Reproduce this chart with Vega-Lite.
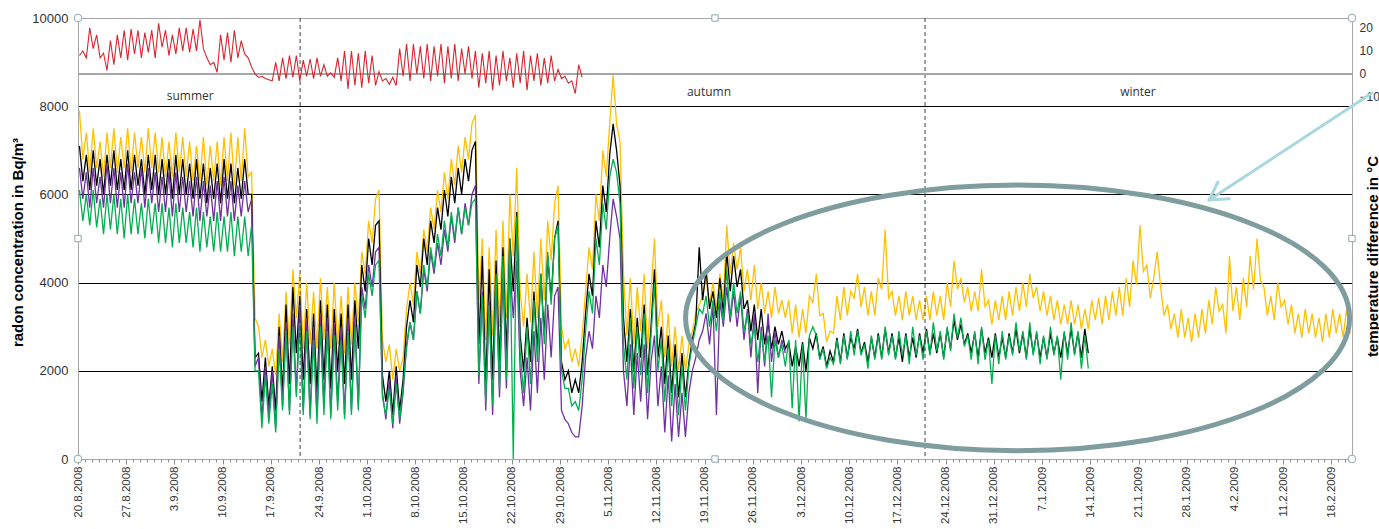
{
"$schema":"https://vega.github.io/schema/vega-lite/v6.json",
"width":1274,"height":441,"autosize":"none",
"padding":{"left":78,"top":18,"right":27,"bottom":70},
"background":"white",
"config":{"view":{"stroke":null},"font":"Liberation Sans"},
"datasets":{"d":[
{"t":"2008-08-20T05:00","Y":7900,"K":7100,"P":6600,"G":6100,"T":8},
{"t":"2008-08-20T17:00","Y":6800,"K":6300,"P":5900,"G":5400,"T":10},
{"t":"2008-08-21T05:00","Y":7400,"K":6900,"P":6500,"G":6000,"T":7},
{"t":"2008-08-21T17:00","Y":6500,"K":6100,"P":5700,"G":5300,"T":20},
{"t":"2008-08-22T05:00","Y":7500,"K":7000,"P":6600,"G":6100,"T":11},
{"t":"2008-08-22T17:00","Y":6600,"K":6200,"P":5800,"G":5250,"T":17},
{"t":"2008-08-23T05:00","Y":7200,"K":6800,"P":6400,"G":5900,"T":7},
{"t":"2008-08-23T17:00","Y":6400,"K":6000,"P":5700,"G":5100,"T":9},
{"t":"2008-08-24T05:00","Y":7400,"K":6900,"P":6700,"G":6000,"T":1.5},
{"t":"2008-08-24T17:00","Y":6600,"K":6200,"P":5800,"G":5200,"T":14.5},
{"t":"2008-08-25T05:00","Y":7500,"K":7000,"P":6600,"G":6000,"T":4},
{"t":"2008-08-25T17:00","Y":6500,"K":6100,"P":5700,"G":5100,"T":17},
{"t":"2008-08-26T05:00","Y":7300,"K":6800,"P":6500,"G":5900,"T":7},
{"t":"2008-08-26T17:00","Y":6600,"K":6100,"P":5700,"G":5000,"T":19},
{"t":"2008-08-27T05:00","Y":7500,"K":7000,"P":6700,"G":6000,"T":6},
{"t":"2008-08-27T17:00","Y":6500,"K":6100,"P":5800,"G":5100,"T":19.5},
{"t":"2008-08-28T05:00","Y":7400,"K":6900,"P":6500,"G":5900,"T":8.7},
{"t":"2008-08-28T17:00","Y":6600,"K":6200,"P":5800,"G":5100,"T":19},
{"t":"2008-08-29T05:00","Y":7300,"K":6800,"P":6600,"G":5800,"T":7},
{"t":"2008-08-29T17:00","Y":6500,"K":6000,"P":5700,"G":5000,"T":18},
{"t":"2008-08-30T05:00","Y":7500,"K":6900,"P":6600,"G":5900,"T":9.4},
{"t":"2008-08-30T17:00","Y":6600,"K":6100,"P":5800,"G":5100,"T":19},
{"t":"2008-08-31T05:00","Y":7400,"K":6900,"P":6500,"G":5800,"T":7},
{"t":"2008-08-31T17:00","Y":6500,"K":6000,"P":5600,"G":4900,"T":22},
{"t":"2008-09-01T05:00","Y":7300,"K":6800,"P":6400,"G":5800,"T":11.6},
{"t":"2008-09-01T17:00","Y":6400,"K":6000,"P":5600,"G":4900,"T":19},
{"t":"2008-09-02T05:00","Y":7200,"K":6800,"P":6500,"G":5700,"T":8},
{"t":"2008-09-02T17:00","Y":6400,"K":5900,"P":5500,"G":4800,"T":17},
{"t":"2008-09-03T05:00","Y":7400,"K":6900,"P":6500,"G":5800,"T":8.7},
{"t":"2008-09-03T17:00","Y":6500,"K":6000,"P":5600,"G":4900,"T":20},
{"t":"2008-09-04T05:00","Y":7300,"K":6800,"P":6400,"G":5700,"T":10},
{"t":"2008-09-04T17:00","Y":6400,"K":6000,"P":5600,"G":4900,"T":20},
{"t":"2008-09-05T05:00","Y":7200,"K":6700,"P":6300,"G":5600,"T":9.4},
{"t":"2008-09-05T17:00","Y":6300,"K":5900,"P":5500,"G":4800,"T":19.5},
{"t":"2008-09-06T05:00","Y":7100,"K":6800,"P":6400,"G":5700,"T":10},
{"t":"2008-09-06T17:00","Y":6300,"K":5900,"P":5400,"G":4700,"T":23.5},
{"t":"2008-09-07T05:00","Y":7300,"K":6700,"P":6300,"G":5600,"T":11},
{"t":"2008-09-07T17:00","Y":6200,"K":5800,"P":5500,"G":4800,"T":7},
{"t":"2008-09-08T05:00","Y":7100,"K":6600,"P":6200,"G":5500,"T":4},
{"t":"2008-09-08T17:00","Y":6300,"K":5900,"P":5400,"G":4700,"T":5},
{"t":"2008-09-09T05:00","Y":7200,"K":6700,"P":6300,"G":5600,"T":0.7},
{"t":"2008-09-09T17:00","Y":6200,"K":5800,"P":5400,"G":4700,"T":17},
{"t":"2008-09-10T05:00","Y":7300,"K":6800,"P":6400,"G":5500,"T":6},
{"t":"2008-09-10T17:00","Y":6300,"K":5900,"P":5500,"G":4700,"T":18},
{"t":"2008-09-11T05:00","Y":7400,"K":6700,"P":6300,"G":5600,"T":5},
{"t":"2008-09-11T17:00","Y":6200,"K":5800,"P":5400,"G":4600,"T":19},
{"t":"2008-09-12T05:00","Y":7300,"K":6600,"P":6200,"G":5500,"T":7},
{"t":"2008-09-12T17:00","Y":6300,"K":5900,"P":5500,"G":4700,"T":14.5},
{"t":"2008-09-13T05:00","Y":7500,"K":6800,"P":6300,"G":5500,"T":8.7},
{"t":"2008-09-13T17:00","Y":6400,"K":6000,"P":5600,"G":4600,"T":7},
{"t":"2008-09-14T05:00","Y":6500,"K":6000,"P":5900,"G":5300,"T":3},
{"t":"2008-09-14T17:00","Y":3200,"K":2300,"P":2100,"G":2000,"T":0},
{"t":"2008-09-15T05:00","Y":3000,"K":2400,"P":2300,"G":2000,"T":-1.5},
{"t":"2008-09-15T17:00","Y":2300,"K":1300,"P":900,"G":700,"T":-1},
{"t":"2008-09-16T05:00","Y":2700,"K":2300,"P":2100,"G":1900,"T":-2},
{"t":"2008-09-16T17:00","Y":2100,"K":1200,"P":1000,"G":800,"T":-2.5},
{"t":"2008-09-17T05:00","Y":2500,"K":2100,"P":2000,"G":1700,"T":-3},
{"t":"2008-09-17T17:00","Y":1900,"K":1100,"P":700,"G":600,"T":5},
{"t":"2008-09-18T05:00","Y":3300,"K":3000,"P":2800,"G":2500,"T":-3},
{"t":"2008-09-18T17:00","Y":2200,"K":1500,"P":1200,"G":1100,"T":7},
{"t":"2008-09-19T05:00","Y":3800,"K":3500,"P":3100,"G":2900,"T":-2},
{"t":"2008-09-19T17:00","Y":2600,"K":1700,"P":1100,"G":1000,"T":8},
{"t":"2008-09-20T05:00","Y":4300,"K":3900,"P":3300,"G":3000,"T":-1.5},
{"t":"2008-09-20T17:00","Y":3200,"K":2400,"P":1500,"G":1400,"T":8},
{"t":"2008-09-21T05:00","Y":4200,"K":3700,"P":3500,"G":3100,"T":-3},
{"t":"2008-09-21T17:00","Y":2500,"K":1800,"P":1100,"G":1000,"T":6},
{"t":"2008-09-22T05:00","Y":4000,"K":3400,"P":3200,"G":2900,"T":-1},
{"t":"2008-09-22T17:00","Y":2600,"K":1700,"P":1000,"G":900,"T":6.5},
{"t":"2008-09-23T05:00","Y":3800,"K":3300,"P":3000,"G":2700,"T":-2},
{"t":"2008-09-23T17:00","Y":2500,"K":1500,"P":1000,"G":800,"T":7},
{"t":"2008-09-24T05:00","Y":4100,"K":3600,"P":3300,"G":3000,"T":-1},
{"t":"2008-09-24T17:00","Y":2700,"K":1800,"P":1200,"G":1000,"T":4},
{"t":"2008-09-25T05:00","Y":3900,"K":3500,"P":3200,"G":2900,"T":-1},
{"t":"2008-09-25T17:00","Y":2500,"K":1600,"P":1000,"G":900,"T":0.5},
{"t":"2008-09-26T05:00","Y":4000,"K":3400,"P":3100,"G":2800,"T":-1.5},
{"t":"2008-09-26T17:00","Y":2600,"K":2000,"P":1300,"G":1100,"T":7},
{"t":"2008-09-27T05:00","Y":3700,"K":3300,"P":3000,"G":2700,"T":-3},
{"t":"2008-09-27T17:00","Y":2400,"K":1700,"P":1000,"G":900,"T":10},
{"t":"2008-09-28T05:00","Y":3900,"K":3500,"P":3200,"G":2900,"T":-6.5},
{"t":"2008-09-28T17:00","Y":2600,"K":1800,"P":1100,"G":1000,"T":10},
{"t":"2008-09-29T05:00","Y":4000,"K":3600,"P":3200,"G":3000,"T":-5},
{"t":"2008-09-29T17:00","Y":3100,"K":2500,"P":1200,"G":1100,"T":9},
{"t":"2008-09-30T05:00","Y":4700,"K":4400,"P":3900,"G":3700,"T":-6},
{"t":"2008-09-30T17:00","Y":4200,"K":3800,"P":3400,"G":3200,"T":10},
{"t":"2008-10-01T05:00","Y":5400,"K":5000,"P":4400,"G":4200,"T":-4},
{"t":"2008-10-01T17:00","Y":4900,"K":4400,"P":3900,"G":3700,"T":8},
{"t":"2008-10-02T05:00","Y":5900,"K":5300,"P":4700,"G":4400,"T":-5},
{"t":"2008-10-02T17:00","Y":6100,"K":5400,"P":4800,"G":4500,"T":1},
{"t":"2008-10-03T05:00","Y":2700,"K":1900,"P":1500,"G":1400,"T":-3},
{"t":"2008-10-03T17:00","Y":2200,"K":1300,"P":900,"G":1000,"T":-2},
{"t":"2008-10-04T05:00","Y":2600,"K":2000,"P":1800,"G":1600,"T":-4.5},
{"t":"2008-10-04T17:00","Y":1800,"K":1000,"P":700,"G":800,"T":-1.5},
{"t":"2008-10-05T05:00","Y":2500,"K":2100,"P":1900,"G":1700,"T":-5},
{"t":"2008-10-05T17:00","Y":2000,"K":1100,"P":800,"G":900,"T":11},
{"t":"2008-10-06T05:00","Y":2300,"K":1800,"P":1500,"G":1600,"T":-1},
{"t":"2008-10-06T17:00","Y":3400,"K":3000,"P":2600,"G":2500,"T":13},
{"t":"2008-10-07T05:00","Y":4000,"K":3600,"P":3100,"G":3100,"T":-3},
{"t":"2008-10-07T17:00","Y":3500,"K":3100,"P":2700,"G":2700,"T":13},
{"t":"2008-10-08T05:00","Y":4700,"K":4400,"P":3800,"G":3800,"T":0},
{"t":"2008-10-08T17:00","Y":4200,"K":3900,"P":3300,"G":3300,"T":12},
{"t":"2008-10-09T05:00","Y":5200,"K":5000,"P":4300,"G":4400,"T":-2},
{"t":"2008-10-09T17:00","Y":4700,"K":4400,"P":3800,"G":3900,"T":13},
{"t":"2008-10-10T05:00","Y":5700,"K":5400,"P":4700,"G":4800,"T":-3},
{"t":"2008-10-10T17:00","Y":5200,"K":4900,"P":4200,"G":4300,"T":12},
{"t":"2008-10-11T05:00","Y":6100,"K":5700,"P":4900,"G":5100,"T":-1},
{"t":"2008-10-11T17:00","Y":5600,"K":5200,"P":4400,"G":4600,"T":13},
{"t":"2008-10-12T05:00","Y":6500,"K":6100,"P":5200,"G":5400,"T":-4},
{"t":"2008-10-12T17:00","Y":5900,"K":5500,"P":4700,"G":4800,"T":12},
{"t":"2008-10-13T05:00","Y":6800,"K":6400,"P":5500,"G":5600,"T":-2},
{"t":"2008-10-13T17:00","Y":6200,"K":5800,"P":4900,"G":5000,"T":13},
{"t":"2008-10-14T05:00","Y":7100,"K":6600,"P":5700,"G":5700,"T":-3},
{"t":"2008-10-14T17:00","Y":6500,"K":6000,"P":5100,"G":5100,"T":11},
{"t":"2008-10-15T05:00","Y":7300,"K":6800,"P":5800,"G":5700,"T":0},
{"t":"2008-10-15T17:00","Y":6800,"K":6300,"P":5300,"G":5300,"T":12},
{"t":"2008-10-16T05:00","Y":7600,"K":7000,"P":6000,"G":5800,"T":-2},
{"t":"2008-10-16T17:00","Y":7800,"K":7200,"P":6200,"G":5900,"T":10},
{"t":"2008-10-17T05:00","Y":3600,"K":2600,"P":1700,"G":1900,"T":-6},
{"t":"2008-10-17T17:00","Y":5000,"K":4600,"P":3800,"G":3700,"T":9},
{"t":"2008-10-18T05:00","Y":2700,"K":1600,"P":1100,"G":1300,"T":-4},
{"t":"2008-10-18T17:00","Y":4800,"K":4300,"P":3600,"G":3500,"T":10},
{"t":"2008-10-19T05:00","Y":2800,"K":1800,"P":1000,"G":1200,"T":-7},
{"t":"2008-10-19T17:00","Y":5200,"K":4500,"P":4000,"G":4200,"T":8},
{"t":"2008-10-20T05:00","Y":3000,"K":2200,"P":1400,"G":1600,"T":-5},
{"t":"2008-10-20T17:00","Y":5400,"K":4800,"P":4200,"G":4600,"T":10},
{"t":"2008-10-21T05:00","Y":3200,"K":2400,"P":1600,"G":1800,"T":-3},
{"t":"2008-10-21T17:00","Y":6000,"K":5000,"P":4400,"G":5000,"T":7},
{"t":"2008-10-22T05:00","Y":4600,"K":3800,"P":3200,"G":0,"T":-6},
{"t":"2008-10-22T17:00","Y":6600,"K":5600,"P":4500,"G":5500,"T":9},
{"t":"2008-10-23T05:00","Y":3800,"K":2800,"P":2000,"G":2400,"T":-4},
{"t":"2008-10-23T17:00","Y":3000,"K":2000,"P":1200,"G":1500,"T":10},
{"t":"2008-10-24T05:00","Y":4200,"K":3200,"P":2300,"G":3000,"T":-7},
{"t":"2008-10-24T17:00","Y":3100,"K":2200,"P":1100,"G":1700,"T":8},
{"t":"2008-10-25T05:00","Y":4700,"K":3800,"P":2900,"G":3600,"T":-3},
{"t":"2008-10-25T17:00","Y":3200,"K":2500,"P":1500,"G":2200,"T":9},
{"t":"2008-10-26T05:00","Y":5000,"K":4200,"P":3200,"G":4200,"T":-5},
{"t":"2008-10-26T17:00","Y":3600,"K":2800,"P":1800,"G":2600,"T":7},
{"t":"2008-10-27T05:00","Y":5400,"K":4600,"P":3500,"G":4700,"T":-4},
{"t":"2008-10-27T17:00","Y":4500,"K":3600,"P":2300,"G":3500,"T":8},
{"t":"2008-10-28T05:00","Y":5800,"K":5000,"P":3700,"G":5000,"T":-3},
{"t":"2008-10-28T17:00","Y":6200,"K":5400,"P":3900,"G":5300,"T":2},
{"t":"2008-10-29T05:00","Y":3000,"K":2200,"P":1100,"G":2000,"T":-2},
{"t":"2008-10-29T17:00","Y":2500,"K":1800,"P":900,"G":1600,"T":-1},
{"t":"2008-10-30T05:00","Y":2700,"K":2000,"P":800,"G":1600,"T":-4},
{"t":"2008-10-30T17:00","Y":2200,"K":1500,"P":600,"G":1200,"T":-3},
{"t":"2008-10-31T05:00","Y":2500,"K":1800,"P":500,"G":1300,"T":-8.5},
{"t":"2008-10-31T17:00","Y":2100,"K":1500,"P":500,"G":1100,"T":4},
{"t":"2008-11-01T05:00","Y":2800,"K":2200,"P":1200,"G":1800,"T":-1.5},
{"t":"2008-11-01T17:00","Y":3800,"K":3300,"P":2300,"G":2900},
{"t":"2008-11-02T05:00","Y":4800,"K":4200,"P":2900,"G":3800},
{"t":"2008-11-02T17:00","Y":4300,"K":3700,"P":2500,"G":3300},
{"t":"2008-11-03T05:00","Y":6000,"K":5400,"P":3700,"G":5000},
{"t":"2008-11-03T17:00","Y":5400,"K":4800,"P":3200,"G":4400},
{"t":"2008-11-04T05:00","Y":7000,"K":6200,"P":4400,"G":5800},
{"t":"2008-11-04T17:00","Y":6400,"K":5600,"P":3900,"G":5200},
{"t":"2008-11-05T05:00","Y":7600,"K":6900,"P":5000,"G":6400},
{"t":"2008-11-05T17:00","Y":8700,"K":7600,"P":5900,"G":6800},
{"t":"2008-11-06T05:00","Y":7600,"K":7000,"P":5500,"G":6500},
{"t":"2008-11-06T17:00","Y":7200,"K":6200,"P":5000,"G":5800},
{"t":"2008-11-07T05:00","Y":4200,"K":3200,"P":2000,"G":2600},
{"t":"2008-11-07T17:00","Y":2800,"K":2200,"P":1200,"G":1800},
{"t":"2008-11-08T05:00","Y":4100,"K":3400,"P":2600,"G":3200},
{"t":"2008-11-08T17:00","Y":2600,"K":2000,"P":1000,"G":1600},
{"t":"2008-11-09T05:00","Y":3900,"K":3200,"P":2400,"G":3000},
{"t":"2008-11-09T17:00","Y":2900,"K":2300,"P":1300,"G":1900},
{"t":"2008-11-10T05:00","Y":4200,"K":3500,"P":2600,"G":3300},
{"t":"2008-11-10T17:00","Y":2500,"K":1900,"P":900,"G":1500},
{"t":"2008-11-11T05:00","Y":3800,"K":3000,"P":2200,"G":2800},
{"t":"2008-11-11T17:00","Y":5000,"K":4300,"P":2800,"G":4000},
{"t":"2008-11-12T05:00","Y":3000,"K":2300,"P":1200,"G":2000},
{"t":"2008-11-12T17:00","Y":3600,"K":3000,"P":2100,"G":2700},
{"t":"2008-11-13T05:00","Y":2300,"K":1700,"P":600,"G":1300},
{"t":"2008-11-13T17:00","Y":3300,"K":2800,"P":1900,"G":2500},
{"t":"2008-11-14T05:00","Y":2100,"K":1500,"P":400,"G":1200},
{"t":"2008-11-14T17:00","Y":3000,"K":2600,"P":1700,"G":2300},
{"t":"2008-11-15T05:00","Y":2000,"K":1400,"P":500,"G":1000},
{"t":"2008-11-15T17:00","Y":2800,"K":2400,"P":1500,"G":2100},
{"t":"2008-11-16T05:00","Y":2000,"K":1400,"P":500,"G":1100},
{"t":"2008-11-16T17:00","Y":2600,"K":2200,"P":1500,"G":2100},
{"t":"2008-11-17T05:00","Y":2900,"K":2700,"P":2000,"G":2600},
{"t":"2008-11-17T17:00","Y":3300,"K":3100,"P":2300,"G":3000},
{"t":"2008-11-18T05:00","Y":3500,"K":4800,"P":2700,"G":3400},
{"t":"2008-11-18T17:00","Y":3700,"K":3600,"P":2900,"G":3300},
{"t":"2008-11-19T05:00","Y":4100,"K":4300,"P":3300,"G":3700},
{"t":"2008-11-19T17:00","Y":3500,"K":3400,"P":2600,"G":3000},
{"t":"2008-11-20T05:00","Y":4000,"K":3800,"P":3500,"G":3600},
{"t":"2008-11-20T17:00","Y":3400,"K":3200,"P":1000,"G":2900},
{"t":"2008-11-21T05:00","Y":4200,"K":4100,"P":3600,"G":3800},
{"t":"2008-11-21T17:00","Y":3600,"K":3300,"P":3000,"G":3100},
{"t":"2008-11-22T05:00","Y":5300,"K":4700,"P":3900,"G":4300},
{"t":"2008-11-22T17:00","Y":4200,"K":3800,"P":3100,"G":3200},
{"t":"2008-11-23T05:00","Y":4900,"K":4600,"P":3800,"G":4000},
{"t":"2008-11-23T17:00","Y":4300,"K":3900,"P":3000,"G":3300},
{"t":"2008-11-24T05:00","Y":4800,"K":4300,"P":3700,"G":3800},
{"t":"2008-11-24T17:00","Y":3800,"K":3400,"P":2700,"G":2900},
{"t":"2008-11-25T05:00","Y":4300,"K":3600,"P":3400,"G":3300},
{"t":"2008-11-25T17:00","Y":3600,"K":2900,"P":2300,"G":2600},
{"t":"2008-11-26T05:00","Y":4400,"K":3500,"P":3300,"G":3000},
{"t":"2008-11-26T17:00","Y":3400,"K":2700,"P":1500,"G":2200},
{"t":"2008-11-27T05:00","Y":4000,"K":3400,"P":3000,"G":2900},
{"t":"2008-11-27T17:00","Y":3300,"K":2600,"P":2100,"G":2200},
{"t":"2008-11-28T05:00","Y":3800,"K":3100,"P":3300,"G":2800},
{"t":"2008-11-28T17:00","Y":3200,"K":2500,"P":2200,"G":1400},
{"t":"2008-11-29T05:00","Y":3900,"K":3000,"P":2900,"G":2700},
{"t":"2008-11-29T17:00","Y":3300,"K":2600,"P":2300,"G":2300},
{"t":"2008-11-30T05:00","Y":3600,"K":2900,"P":2700,"G":2600},
{"t":"2008-11-30T17:00","Y":3200,"K":2500,"P":2400,"G":2100},
{"t":"2008-12-01T05:00","Y":3600,"K":2650,"G":2700},
{"t":"2008-12-01T17:00","Y":2850,"K":2100,"G":1150},
{"t":"2008-12-02T05:00","Y":3500,"K":2550,"G":2700},
{"t":"2008-12-02T17:00","Y":2750,"K":2100,"G":850},
{"t":"2008-12-03T05:00","Y":3400,"K":2650,"G":2600},
{"t":"2008-12-03T17:00","Y":2850,"K":2000,"G":900},
{"t":"2008-12-04T05:00","Y":3700,"K":2750,"G":2800},
{"t":"2008-12-04T17:00","Y":3550,"K":2500,"G":3000},
{"t":"2008-12-05T05:00","Y":4200,"K":2850,"G":2800},
{"t":"2008-12-05T17:00","Y":3250,"K":2300,"G":2250},
{"t":"2008-12-06T05:00","Y":3300,"K":2550,"G":2500},
{"t":"2008-12-06T17:00","Y":2650,"K":2100,"G":2050},
{"t":"2008-12-07T05:00","Y":2900,"K":2450,"G":2300},
{"t":"2008-12-07T17:00","Y":2850,"K":2200,"G":2150},
{"t":"2008-12-08T05:00","Y":3700,"K":2750,"G":2700},
{"t":"2008-12-08T17:00","Y":3150,"K":2200,"G":2150},
{"t":"2008-12-09T05:00","Y":3900,"K":2850,"G":2800},
{"t":"2008-12-09T17:00","Y":3250,"K":2300,"G":2250},
{"t":"2008-12-10T05:00","Y":3800,"K":2750,"G":2900},
{"t":"2008-12-10T17:00","Y":3650,"K":2500,"G":2350},
{"t":"2008-12-11T05:00","Y":4200,"K":2950,"G":2900},
{"t":"2008-12-11T17:00","Y":3450,"K":2400,"G":2350},
{"t":"2008-12-12T05:00","Y":3900,"K":2650,"G":2600},
{"t":"2008-12-12T17:00","Y":3250,"K":2200,"G":2050},
{"t":"2008-12-13T05:00","Y":3800,"K":2750,"G":2800},
{"t":"2008-12-13T17:00","Y":3250,"K":2300,"G":2250},
{"t":"2008-12-14T05:00","Y":4100,"K":2850,"G":2800},
{"t":"2008-12-14T17:00","Y":3850,"K":2300,"G":2250},
{"t":"2008-12-15T05:00","Y":5200,"K":2950,"G":3000},
{"t":"2008-12-15T17:00","Y":3650,"K":2400,"G":2350},
{"t":"2008-12-16T05:00","Y":3800,"K":2850,"G":2800},
{"t":"2008-12-16T17:00","Y":3250,"K":2300,"G":2250},
{"t":"2008-12-17T05:00","Y":3700,"K":2750,"G":2900},
{"t":"2008-12-17T17:00","Y":3150,"K":2200,"G":2350},
{"t":"2008-12-18T05:00","Y":3800,"K":2850,"G":2800},
{"t":"2008-12-18T17:00","Y":3250,"K":2300,"G":2150},
{"t":"2008-12-19T05:00","Y":3700,"K":2750,"G":3000},
{"t":"2008-12-19T17:00","Y":3150,"K":2300,"G":2350},
{"t":"2008-12-20T05:00","Y":3600,"K":2850,"G":2800},
{"t":"2008-12-20T17:00","Y":3150,"K":2400,"G":2250},
{"t":"2008-12-21T05:00","Y":3700,"K":2950,"G":2900},
{"t":"2008-12-21T17:00","Y":3150,"K":2400,"G":2350},
{"t":"2008-12-22T05:00","Y":3800,"K":2850,"G":3100},
{"t":"2008-12-22T17:00","Y":3250,"K":2400,"G":2450},
{"t":"2008-12-23T05:00","Y":3700,"K":2850,"G":2900},
{"t":"2008-12-23T17:00","Y":3150,"K":2300,"G":2250},
{"t":"2008-12-24T05:00","Y":4000,"K":2950,"G":3000},
{"t":"2008-12-24T17:00","Y":3450,"K":2500,"G":2450},
{"t":"2008-12-25T05:00","Y":4500,"K":3150,"G":3300},
{"t":"2008-12-25T17:00","Y":3850,"K":2700,"G":2750},
{"t":"2008-12-26T05:00","Y":4100,"K":3050,"G":3200},
{"t":"2008-12-26T17:00","Y":3550,"K":2600,"G":2550},
{"t":"2008-12-27T05:00","Y":3900,"K":2850,"G":2800},
{"t":"2008-12-27T17:00","Y":3350,"K":2400,"G":2250},
{"t":"2008-12-28T05:00","Y":3800,"K":2850,"G":2900},
{"t":"2008-12-28T17:00","Y":3350,"K":2300,"G":2150},
{"t":"2008-12-29T05:00","Y":4300,"K":2950,"G":3000},
{"t":"2008-12-29T17:00","Y":3450,"K":2400,"G":2250},
{"t":"2008-12-30T05:00","Y":3600,"K":2750,"G":2700},
{"t":"2008-12-30T17:00","Y":3050,"K":2300,"G":1700},
{"t":"2008-12-31T05:00","Y":3600,"K":2850,"G":2800},
{"t":"2008-12-31T17:00","Y":3150,"K":2300,"G":2150},
{"t":"2009-01-01T05:00","Y":3700,"K":2750,"G":2900},
{"t":"2009-01-01T17:00","Y":3150,"K":2300,"G":2250},
{"t":"2009-01-02T05:00","Y":3800,"K":2850,"G":2800},
{"t":"2009-01-02T17:00","Y":3250,"K":2400,"G":2350},
{"t":"2009-01-03T05:00","Y":3900,"K":2950,"G":3100},
{"t":"2009-01-03T17:00","Y":3350,"K":2400,"G":2450},
{"t":"2009-01-04T05:00","Y":4000,"K":2850,"G":2900},
{"t":"2009-01-04T17:00","Y":3450,"K":2300,"G":2250},
{"t":"2009-01-05T05:00","Y":4200,"K":2950,"G":3100},
{"t":"2009-01-05T17:00","Y":3650,"K":2400,"G":2350},
{"t":"2009-01-06T05:00","Y":3900,"K":2850,"G":2900},
{"t":"2009-01-06T17:00","Y":3350,"K":2300,"G":2150},
{"t":"2009-01-07T05:00","Y":3800,"K":2750,"G":2800},
{"t":"2009-01-07T17:00","Y":3250,"K":2300,"G":2250},
{"t":"2009-01-08T05:00","Y":3700,"K":2850,"G":3000},
{"t":"2009-01-08T17:00","Y":3150,"K":2400,"G":2350},
{"t":"2009-01-09T05:00","Y":3600,"K":2750,"G":2800},
{"t":"2009-01-09T17:00","Y":3050,"K":2300,"G":1800},
{"t":"2009-01-10T05:00","Y":3500,"K":2850,"G":2900},
{"t":"2009-01-10T17:00","Y":3050,"K":2400,"G":2250},
{"t":"2009-01-11T05:00","Y":3600,"K":2950,"G":3100},
{"t":"2009-01-11T17:00","Y":3050,"K":2400,"G":2350},
{"t":"2009-01-12T05:00","Y":3500,"K":2850,"G":2900},
{"t":"2009-01-12T17:00","Y":2950,"K":2300,"G":2050},
{"t":"2009-01-13T05:00","Y":3400,"K":2950,"G":2800},
{"t":"2009-01-13T17:00","Y":2950,"K":2400,"G":2050},
{"t":"2009-01-14T05:00","Y":3600},
{"t":"2009-01-14T17:00","Y":3150},
{"t":"2009-01-15T05:00","Y":3650},
{"t":"2009-01-15T17:00","Y":3050},
{"t":"2009-01-16T05:00","Y":3700},
{"t":"2009-01-16T17:00","Y":3150},
{"t":"2009-01-17T05:00","Y":3800},
{"t":"2009-01-17T17:00","Y":3250},
{"t":"2009-01-18T05:00","Y":3900},
{"t":"2009-01-18T17:00","Y":3250},
{"t":"2009-01-19T05:00","Y":4100},
{"t":"2009-01-19T17:00","Y":3450},
{"t":"2009-01-20T05:00","Y":4500},
{"t":"2009-01-20T17:00","Y":3950},
{"t":"2009-01-21T05:00","Y":5300},
{"t":"2009-01-21T17:00","Y":4250},
{"t":"2009-01-22T05:00","Y":4400},
{"t":"2009-01-22T17:00","Y":3650},
{"t":"2009-01-23T05:00","Y":4100},
{"t":"2009-01-23T17:00","Y":4700},
{"t":"2009-01-24T05:00","Y":3900},
{"t":"2009-01-24T17:00","Y":3250},
{"t":"2009-01-25T05:00","Y":3500},
{"t":"2009-01-25T17:00","Y":2950},
{"t":"2009-01-26T05:00","Y":3300},
{"t":"2009-01-26T17:00","Y":2750},
{"t":"2009-01-27T05:00","Y":3400},
{"t":"2009-01-27T17:00","Y":2750},
{"t":"2009-01-28T05:00","Y":3200},
{"t":"2009-01-28T17:00","Y":2650},
{"t":"2009-01-29T05:00","Y":3300},
{"t":"2009-01-29T17:00","Y":2750},
{"t":"2009-01-30T05:00","Y":3400},
{"t":"2009-01-30T17:00","Y":2850},
{"t":"2009-01-31T05:00","Y":3600},
{"t":"2009-01-31T17:00","Y":3050},
{"t":"2009-02-01T05:00","Y":3900},
{"t":"2009-02-01T17:00","Y":3350},
{"t":"2009-02-02T05:00","Y":3500},
{"t":"2009-02-02T17:00","Y":2850},
{"t":"2009-02-03T05:00","Y":4600},
{"t":"2009-02-03T17:00","Y":3350},
{"t":"2009-02-04T05:00","Y":3900},
{"t":"2009-02-04T17:00","Y":3150},
{"t":"2009-02-05T05:00","Y":4100},
{"t":"2009-02-05T17:00","Y":3450},
{"t":"2009-02-06T05:00","Y":4600},
{"t":"2009-02-06T17:00","Y":3850},
{"t":"2009-02-07T05:00","Y":5000},
{"t":"2009-02-07T17:00","Y":4050},
{"t":"2009-02-08T05:00","Y":3900},
{"t":"2009-02-08T17:00","Y":3250},
{"t":"2009-02-09T05:00","Y":3700},
{"t":"2009-02-09T17:00","Y":3150},
{"t":"2009-02-10T05:00","Y":4000},
{"t":"2009-02-10T17:00","Y":3450},
{"t":"2009-02-11T05:00","Y":3600},
{"t":"2009-02-11T17:00","Y":3050},
{"t":"2009-02-12T05:00","Y":3500},
{"t":"2009-02-12T17:00","Y":2850},
{"t":"2009-02-13T05:00","Y":3300},
{"t":"2009-02-13T17:00","Y":2750},
{"t":"2009-02-14T05:00","Y":3400},
{"t":"2009-02-14T17:00","Y":2850},
{"t":"2009-02-15T05:00","Y":3300},
{"t":"2009-02-15T17:00","Y":2750},
{"t":"2009-02-16T05:00","Y":3200},
{"t":"2009-02-16T17:00","Y":2650},
{"t":"2009-02-17T05:00","Y":3300},
{"t":"2009-02-17T17:00","Y":2750},
{"t":"2009-02-18T05:00","Y":3400},
{"t":"2009-02-18T17:00","Y":2850},
{"t":"2009-02-19T05:00","Y":3300},
{"t":"2009-02-19T17:00","Y":2750},
{"t":"2009-02-20T05:00","Y":3400},
{"t":"2009-02-20T17:00","Y":2850}
]},
"layer":[
{"layer":[
{"data":{"name":"d"},"transform":[{"filter":"isValid(datum.Y)"}],
 "mark":{"type":"line","color":"#FFC000","strokeWidth":1.3},
 "encoding":{
  "x":{"field":"t","type":"temporal","scale":{"domain":[{"year":2008,"month":8,"date":20},{"year":2009,"month":2,"date":21}]},
   "axis":{"title":null,"tickCount":{"interval":"day","step":1},
    "labelExpr":"round((datum.value - datetime(2008,7,20))/86400000) % 7 == 0 ? timeFormat(datum.value, '%-d.%-m.%Y') : ''",
    "labelAngle":-90,"labelFontSize":11.5,"labelColor":"#333333","labelOverlap":false,"labelFlush":false,"labelPadding":2,
    "tickSize":{"condition":{"test":"round((datum.value - datetime(2008,7,20))/86400000) % 7 == 0","value":5},"value":3},
    "tickColor":"#8c8c8c","domainColor":"#a6a6a6","grid":false}},
  "y":{"field":"Y","type":"quantitative","scale":{"domain":[0,10000],"nice":false},
   "axis":{"title":"radon concentration in Bq/m³","values":[0,2000,4000,6000,8000,10000],"format":"d","grid":true,
    "gridColor":{"condition":{"test":"datum.value == 0 || datum.value == 10000","value":"#a6a6a6"},"value":"#000000"},
    "gridWidth":1,"ticks":false,"domainColor":"#a6a6a6","labelFontSize":13,"labelColor":"#333333","labelPadding":10,
    "titleFontSize":15,"titleFontWeight":"bold","titleColor":"#000000","titleX":-61,"titleY":224,"titleAngle":270,"titleBaseline":"middle"}}}},
{"data":{"name":"d"},"transform":[{"filter":"isValid(datum.K)"}],
 "mark":{"type":"line","color":"#000000","strokeWidth":1.3},
 "encoding":{"x":{"field":"t","type":"temporal","scale":{"domain":[{"year":2008,"month":8,"date":20},{"year":2009,"month":2,"date":21}]}},
  "y":{"field":"K","type":"quantitative","scale":{"domain":[0,10000],"nice":false}}}},
{"data":{"name":"d"},"transform":[{"filter":"isValid(datum.P)"}],
 "mark":{"type":"line","color":"#7030A0","strokeWidth":1.3},
 "encoding":{"x":{"field":"t","type":"temporal","scale":{"domain":[{"year":2008,"month":8,"date":20},{"year":2009,"month":2,"date":21}]}},
  "y":{"field":"P","type":"quantitative","scale":{"domain":[0,10000],"nice":false}}}},
{"data":{"name":"d"},"transform":[{"filter":"isValid(datum.G)"}],
 "mark":{"type":"line","color":"#00B050","strokeWidth":1.3},
 "encoding":{"x":{"field":"t","type":"temporal","scale":{"domain":[{"year":2008,"month":8,"date":20},{"year":2009,"month":2,"date":21}]}},
  "y":{"field":"G","type":"quantitative","scale":{"domain":[0,10000],"nice":false}}}},
{"data":{"values":[{"t":"2008-09-21T06:00"},{"t":"2008-12-21T00:00"}]},
 "mark":{"type":"rule","color":"#404040","strokeDash":[4,3],"strokeWidth":1},
 "encoding":{"x":{"field":"t","type":"temporal","scale":{"domain":[{"year":2008,"month":8,"date":20},{"year":2009,"month":2,"date":21}]}}}},
{"data":{"values":[{"t":"2008-09-05T07:00","v":8230,"s":"summer"},{"t":"2008-11-19T15:00","v":8320,"s":"autumn"},{"t":"2009-01-20T22:00","v":8320,"s":"winter"}]},
 "mark":{"type":"text","font":"Open Sans","fontSize":12,"color":"#333333"},
 "encoding":{"x":{"field":"t","type":"temporal","scale":{"domain":[{"year":2008,"month":8,"date":20},{"year":2009,"month":2,"date":21}]}},
  "y":{"field":"v","type":"quantitative","scale":{"domain":[0,10000],"nice":false}},
  "text":{"field":"s"}}},
{"data":{"values":[{"t":"2009-01-03T10:30","v":3200}]},
 "mark":{"type":"point","shape":"M-1,0C-1,-0.221,-0.552,-0.4,0,-0.4C0.552,-0.4,1,-0.221,1,0C1,0.221,0.552,0.4,0,0.4C-0.552,0.4,-1,0.221,-1,0Z","size":440896,"filled":false,"stroke":"#7F9C9E","strokeWidth":5,"opacity":1},
 "encoding":{"x":{"field":"t","type":"temporal","scale":{"domain":[{"year":2008,"month":8,"date":20},{"year":2009,"month":2,"date":21}]}},
  "y":{"field":"v","type":"quantitative","scale":{"domain":[0,10000],"nice":false}}}},
{"data":{"values":[
  {"t":"2009-02-23T22:00","v":8300,"t2":"2009-01-31T06:00","v2":5873},
  {"t":"2009-01-31T06:00","v":5873,"t2":"2009-02-03T04:00","v2":5900},
  {"t":"2009-01-31T06:00","v":5873,"t2":"2009-02-01T13:00","v2":6281}],
  "format":{"parse":{"t":"date","t2":"date"}}},
 "mark":{"type":"rule","color":"#A9D7DE","strokeWidth":3,"strokeCap":"round"},
 "encoding":{"x":{"field":"t","type":"temporal","scale":{"domain":[{"year":2008,"month":8,"date":20},{"year":2009,"month":2,"date":21}]}},
  "x2":{"field":"t2"},
  "y":{"field":"v","type":"quantitative","scale":{"domain":[0,10000],"nice":false}},
  "y2":{"field":"v2"}}},
{"data":{"values":[{"t":"2008-08-20T00:00","v":10000},{"t":"2009-02-21T00:00","v":10000},{"t":"2008-08-20T00:00","v":0},{"t":"2009-02-21T00:00","v":0}]},
 "mark":{"type":"point","shape":"circle","size":60,"filled":true,"fill":"white","stroke":"#8DA9B0","strokeWidth":1,"opacity":1},
 "encoding":{"x":{"field":"t","type":"temporal","scale":{"domain":[{"year":2008,"month":8,"date":20},{"year":2009,"month":2,"date":21}]}},
  "y":{"field":"v","type":"quantitative","scale":{"domain":[0,10000],"nice":false}}}},
{"data":{"values":[{"t":"2008-11-20T12:00","v":10000},{"t":"2008-08-20T00:00","v":5000},{"t":"2009-02-21T00:00","v":5000},{"t":"2008-11-20T12:00","v":0}]},
 "mark":{"type":"point","shape":"square","size":40,"filled":true,"fill":"white","stroke":"#8DA9B0","strokeWidth":1,"opacity":1},
 "encoding":{"x":{"field":"t","type":"temporal","scale":{"domain":[{"year":2008,"month":8,"date":20},{"year":2009,"month":2,"date":21}]}},
  "y":{"field":"v","type":"quantitative","scale":{"domain":[0,10000],"nice":false}}}}
]},
{"layer":[
{"data":{"values":[{}]},
 "mark":{"type":"rule","color":"#a6a6a6","strokeWidth":2},
 "encoding":{"y":{"datum":0,"type":"quantitative","scale":{"domain":[-167.2,24.3],"nice":false,"zero":false}}}},
{"data":{"name":"d"},"transform":[{"filter":"isValid(datum.T)"}],
 "mark":{"type":"line","color":"#D9262E","strokeWidth":1.1},
 "encoding":{"x":{"field":"t","type":"temporal","scale":{"domain":[{"year":2008,"month":8,"date":20},{"year":2009,"month":2,"date":21}]}},
  "y":{"field":"T","type":"quantitative","scale":{"domain":[-167.2,24.3],"nice":false,"zero":false},
   "axis":{"orient":"right","title":"temperature difference in °C","values":[-10,0,10,20],"format":"d","grid":false,"ticks":false,
    "domainColor":"#a6a6a6","labelFontSize":12,"labelColor":"#333333","labelPadding":7,
    "titleFontSize":15,"titleFontWeight":"bold","titleColor":"#000000","titleAngle":270,"titleX":20,"titleY":238,"titleBaseline":"middle"}}}}
]}
],
"resolve":{"scale":{"y":"independent"},"axis":{"y":"independent"}}
}
